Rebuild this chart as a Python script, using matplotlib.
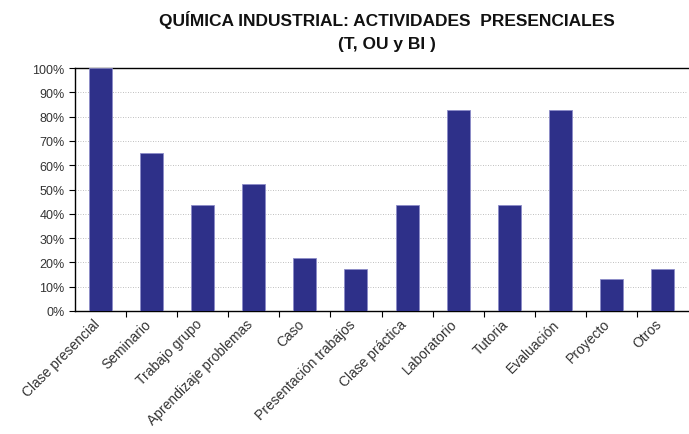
import numpy as np
import matplotlib.pyplot as plt
import matplotlib.transforms as mtransforms
from matplotlib.ticker import FixedLocator, NullFormatter

plt.rcParams['font.family'] = ['Liberation Sans', 'DejaVu Sans']

categories = ["Clase presencial", "Seminario", "Trabajo grupo", "Aprendizaje problemas",
              "Caso", "Presentación trabajos", "Clase práctica", "Laboratorio",
              "Tutoria", "Evaluación", "Proyecto", "Otros"]
values = [100.0, 65.2, 43.5, 52.2, 21.7, 17.4, 43.5, 82.6, 43.5, 82.6, 13.0, 17.4]
ytick_vals = list(range(0, 101, 10))
ytick_labels = [f"{v}%" for v in ytick_vals]

fig = plt.figure(figsize=(6.89, 4.35), dpi=100)
ax = fig.add_axes([75/689, 1-312/435, 613/689, 243/435])

x = np.arange(len(categories))
ax.bar(x, values, width=0.45, color='#2e3089', edgecolor='#8c8cc8', linewidth=0.6, zorder=3)

ax.set_xlim(-0.5, len(categories) - 0.5)
ax.set_ylim(0, 100)

ax.set_yticks(ytick_vals)
ax.set_yticklabels(ytick_labels, fontsize=9, color='#333333')
ax.yaxis.grid(True, ls=(0, (1, 2)), color='#aaaaaa', lw=0.6, zorder=0)

ax.set_xticks(x)
ax.set_xticklabels(categories, rotation=45, ha='right', rotation_mode='anchor',
                   fontsize=10, color='#333333')
ax.tick_params(axis='x', which='major', length=0, pad=4)
shift = mtransforms.ScaledTranslation(-8/100, 0, fig.dpi_scale_trans)
for lbl in ax.get_xticklabels():
    lbl.set_transform(lbl.get_transform() + shift)
ax.xaxis.set_minor_locator(FixedLocator(np.arange(0.5, len(categories) - 0.5, 1)))
ax.xaxis.set_minor_formatter(NullFormatter())
ax.tick_params(axis='x', which='minor', length=4, direction='out', width=0.8)
ax.tick_params(axis='y', length=4, direction='out', width=0.8)

ax.spines['right'].set_visible(False)
for s in ['left', 'bottom', 'top']:
    ax.spines[s].set_linewidth(1.0)

fig.text(387/689, 1-20/435, "QUÍMICA INDUSTRIAL: ACTIVIDADES  PRESENCIALES",
         ha='center', va='center', fontsize=12.5, fontweight='bold', color='#111111')
fig.text(387/689, 1-45/435, "(T, OU y BI )",
         ha='center', va='center', fontsize=12.5, fontweight='bold', color='#111111')

fig.savefig("out.png", dpi=100)
